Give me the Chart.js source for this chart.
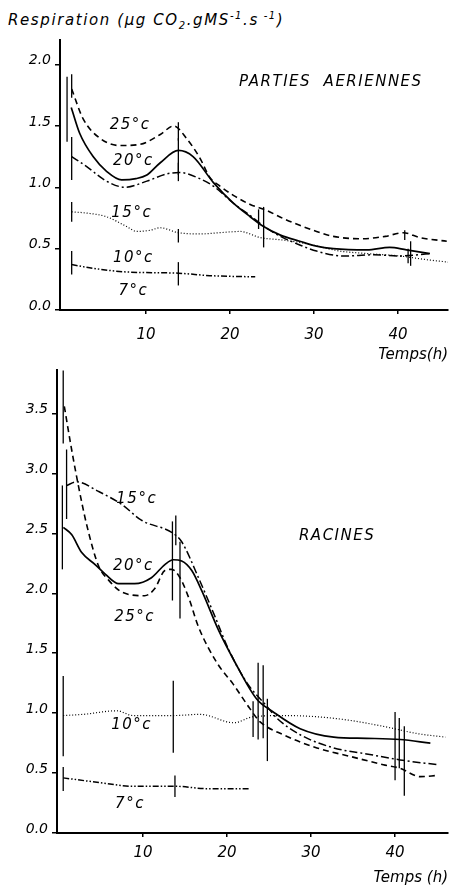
<!DOCTYPE html>
<html>
<head>
<meta charset="utf-8">
<script src="https://cdn.jsdelivr.net/npm/chart.js"></script>
<style>
  html, body { margin: 0; padding: 0; background: #fff; }
  body { width: 449px; height: 887px; position: relative; overflow: hidden; }
  canvas { position: absolute; left: 0; }
  #ytitle {
    position: absolute; left: 8px; top: 10px; letter-spacing: 1.6px;
    font: italic 15px "DejaVu Sans", sans-serif; color: #000; white-space: nowrap;
  }
  #ytitle sub, #ytitle sup { font-size: 10px; }
</style>
</head>
<body>
<div id="ytitle">Respiration (µg CO<sub>2</sub>.gMS<sup>-1</sup>.s<sup> -1</sup>)</div>
<canvas id="aerChart" width="449" height="364" style="top:0"></canvas>
<canvas id="racChart" width="449" height="529" style="top:358px"></canvas>
<script>
// Axes
const xTicks = [10, 20, 30, 40];
const yTicksAer = [0, 0.5, 1.0, 1.5, 2.0];
const yTicksRac = [0, 0.5, 1.0, 1.5, 2.0, 2.5, 3.0, 3.5];

// Parties aériennes : [heures, respiration]
const aer25 = [[1.15,1.80],[2.5,1.56],[4.5,1.40],[6.9,1.34],[9.3,1.35],[11.7,1.43],[13.3,1.50],[14.8,1.40],[16.4,1.24],[17.6,1.08],[18.8,1.01],[20.5,0.93],[22.4,0.86],[24.4,0.81],[26.5,0.74],[28.3,0.69],[30.3,0.64],[32.3,0.60],[35.5,0.58],[38.5,0.60],[40.6,0.63],[42.6,0.59],[45.8,0.56]];
const aer20 = [[1.1,1.65],[2.1,1.44],[3.7,1.25],[5.3,1.13],[7.1,1.06],[8.8,1.07],[10.1,1.10],[11.7,1.20],[13.85,1.30],[15.6,1.25],[18.0,1.04],[20.4,0.87],[22.4,0.76],[24.0,0.68],[26.0,0.61],[28.3,0.56],[30.3,0.52],[32.3,0.50],[36.3,0.49],[39.0,0.51],[41.0,0.49],[43.8,0.46]];
const aer15 = [[1.15,1.25],[2.9,1.17],[5.3,1.05],[7.5,1.00],[10.1,1.05],[12.5,1.11],[14.0,1.12],[16.4,1.07],[18.2,1.00],[20.4,0.87],[22.4,0.77],[24.5,0.66],[26.3,0.59],[28.3,0.53],[30.3,0.48],[33.5,0.44],[37.1,0.45],[40.2,0.44],[43.8,0.46]];
const aer10 = [[1.15,0.80],[2.9,0.79],[5.3,0.76],[7.7,0.68],[8.9,0.64],[10.5,0.65],[11.7,0.67],[13.85,0.63],[16.4,0.62],[18.8,0.63],[21.2,0.64],[23.6,0.59],[26.3,0.57],[29.1,0.54],[33.1,0.48],[36.3,0.46],[40.2,0.44],[43.4,0.41],[46,0.39]];
const aer7 = [[1.15,0.37],[3.7,0.34],[7.7,0.31],[13.85,0.30],[17.6,0.28],[23,0.27]];

// écarts : [heures, min, max]
const aer25Err = [[1.15,1.73,1.92],[13.85,1.38,1.53],[40.8,0.57,0.65]];
const aer20Err = [[0.6,1.37,1.90],[13.85,1.10,1.40],[23.4,0.66,0.82],[41.5,0.36,0.56]];
const aer15Err = [[1.15,1.06,1.41],[13.85,1.05,1.20],[41.2,0.38,0.50]];
const aer10Err = [[1.15,0.72,0.88],[13.85,0.55,0.66],[24.0,0.51,0.84]];
const aer7Err = [[1.15,0.29,0.48],[13.85,0.20,0.39]];

// Racines
const rac25 = [[0.63,3.56],[1.5,3.20],[2.3,2.90],[3.3,2.57],[4.7,2.23],[5.9,2.11],[7.5,2.01],[10.2,1.98],[11.4,2.04],[12.6,2.19],[13.4,2.20],[14.4,2.13],[15.4,1.97],[16.6,1.72],[18.8,1.42],[20.75,1.24],[22.7,1.04],[23.9,0.93],[26.7,0.82],[30.7,0.71],[34.6,0.64],[38.6,0.57],[40.6,0.54],[43,0.47],[45,0.48]];
const rac20 = [[0.52,2.55],[1.5,2.49],[2.7,2.34],[4.3,2.24],[5.5,2.16],[7.1,2.08],[9.0,2.08],[11.0,2.13],[12.6,2.24],[13.6,2.28],[14.6,2.27],[15.8,2.19],[17.0,2.02],[19.0,1.69],[20.75,1.45],[23.5,1.12],[25.5,1.01],[28.7,0.87],[32.7,0.80],[36.6,0.79],[40.6,0.78],[44.2,0.75]];
const rac15 = [[0.9,2.90],[2.1,2.93],[4.7,2.85],[7.5,2.74],[9.8,2.61],[13.6,2.50],[14.6,2.43],[16.6,2.13],[18.6,1.80],[20,1.56],[22.3,1.26],[24.7,1.06],[25.9,0.96],[28.7,0.82],[32.7,0.71],[36.6,0.66],[40.6,0.61],[45,0.57]];
const rac10 = [[0.5,0.98],[2.9,0.99],[6.9,1.02],[8.8,0.98],[13.6,0.98],[16.8,0.99],[20.8,0.92],[23.1,0.97],[26.7,0.98],[30.7,0.97],[34.6,0.94],[38.6,0.89],[42.6,0.83],[46,0.80]];
const rac7 = [[0.5,0.46],[4.9,0.42],[8.8,0.39],[13.8,0.39],[17.6,0.37],[22.7,0.37]];

const rac25Err = [[0.5,3.25,3.86],[13.5,1.94,2.60],[23.1,0.80,1.10],[41.1,0.31,0.89]];
const rac20Err = [[0.4,2.20,2.90],[14.4,1.79,2.43],[23.7,0.78,1.42],[40.0,0.44,1.01]];
const rac15Err = [[0.9,2.62,3.20],[13.9,2.40,2.65],[24.8,0.60,1.12]];
const rac10Err = [[0.5,0.64,1.31],[13.6,0.67,1.27],[24.3,0.79,1.40],[40.5,0.54,0.96]];
const rac7Err = [[0.5,0.35,0.55],[13.8,0.30,0.48]];

// étiquettes des courbes
const aerLabels = [
  { text: 'PARTIES  AERIENNES', x: 32.0, y: 1.86, size: 15 },
  { text: '25°c', x: 8.1, y: 1.51 },
  { text: '20°c', x: 8.5, y: 1.21 },
  { text: '15°c', x: 8.3, y: 0.79 },
  { text: '10°c', x: 8.5, y: 0.42 },
  { text: '7°c', x: 8.5, y: 0.15 }
];
const racLabels = [
  { text: 'RACINES', x: 33.1, y: 2.48, size: 15 },
  { text: '15°c', x: 9.25, y: 2.79 },
  { text: '20°c', x: 8.85, y: 2.23 },
  { text: '25°c', x: 9.0, y: 1.80 },
  { text: '10°c', x: 8.65, y: 0.90 },
  { text: '7°c', x: 8.45, y: 0.24 }
];

const FONT = '"DejaVu Sans", sans-serif';
Chart.defaults.font.family = FONT;
Chart.defaults.font.style = 'italic';
Chart.defaults.color = '#000';

// styles des températures
const styles = {
  25: { dash: [6, 4], width: 1.6 },
  20: { dash: [], width: 1.7 },
  15: { dash: [8, 3, 2, 3], width: 1.5 },
  10: { dash: [1, 2], width: 1.2 },
  7:  { dash: [6, 2, 1.5, 2, 1.5, 2], width: 1.5 }
};

function makeDataset(points, errs, temp) {
  return {
    label: temp + '°c',
    data: points.map(p => ({ x: p[0], y: p[1] })),
    errorBars: errs,
    borderColor: '#000',
    borderWidth: styles[temp].width,
    borderDash: styles[temp].dash,
    pointRadius: 0,
    fill: false,
    cubicInterpolationMode: 'monotone'
  };
}

const errorBarPlugin = {
  id: 'errorBars',
  afterDatasetsDraw(chart) {
    const { ctx, scales: { x, y } } = chart;
    ctx.save();
    ctx.strokeStyle = '#000';
    ctx.lineWidth = 1.3;
    chart.data.datasets.forEach(ds => {
      (ds.errorBars || []).forEach(([h, lo, hi]) => {
        const px = x.getPixelForValue(h);
        ctx.beginPath();
        ctx.moveTo(px, y.getPixelForValue(lo));
        ctx.lineTo(px, y.getPixelForValue(hi));
        ctx.stroke();
      });
    });
    ctx.restore();
  }
};

function labelPlugin(items) {
  return {
    id: 'curveLabels',
    afterDraw(chart) {
      const { ctx, scales: { x, y } } = chart;
      ctx.save();
      ctx.fillStyle = '#000';
      ctx.textAlign = 'center';
      ctx.textBaseline = 'middle';
      items.forEach(l => {
        ctx.font = 'italic ' + (l.size || 15) + 'px ' + FONT;
        ctx.letterSpacing = '1.5px';
        ctx.fillText(l.text, x.getPixelForValue(l.x), y.getPixelForValue(l.y));
      });
      ctx.restore();
    }
  };
}

function makeChart(id, datasets, labels, yTicks, yMax, xMin, xMax, yWidth, title, padTop, tickPad) {
  return new Chart(document.getElementById(id), {
    type: 'line',
    data: { datasets: datasets },
    options: {
      responsive: false,
      animation: false,
      layout: { padding: { top: padTop, right: 1, left: 0, bottom: 0 } },
      plugins: { legend: { display: false }, tooltip: { enabled: false } },
      scales: {
        x: {
          type: 'linear',
          min: xMin,
          max: xMax,
          afterBuildTicks: s => { s.ticks = xTicks.map(v => ({ value: v })); },
          afterFit: s => { s.height = 54; },
          border: { color: '#000', width: 2 },
          grid: { display: true, drawOnChartArea: false, drawTicks: true, tickLength: 4, color: '#000', lineWidth: 1.5 },
          ticks: { padding: tickPad, font: { size: 15, style: 'italic' }, maxRotation: 0 },
          title: { display: true, text: title, align: 'end', padding: { top: 0, bottom: 0 }, font: { size: 15, style: 'italic' } }
        },
        y: {
          min: 0,
          max: yMax,
          afterBuildTicks: s => { s.ticks = yTicks.map(v => ({ value: v })); },
          afterFit: s => { s.width = yWidth; },
          border: { color: '#000', width: 2 },
          grid: { display: true, drawOnChartArea: false, drawTicks: true, tickLength: 5, color: '#000', lineWidth: 1.5 },
          ticks: { padding: 4, labelOffset: -4, font: { size: 14, style: 'italic' }, callback: v => v.toFixed(1) }
        }
      }
    },
    plugins: [errorBarPlugin, labelPlugin(labels)]
  });
}

makeChart('aerChart', [
  makeDataset(aer25, aer25Err, 25),
  makeDataset(aer20, aer20Err, 20),
  makeDataset(aer15, aer15Err, 15),
  makeDataset(aer10, aer10Err, 10),
  makeDataset(aer7, aer7Err, 7)
], aerLabels, yTicksAer, 2.2, -0.24, 45.95, 60, 'Temps(h)', 40, 12);

makeChart('racChart', [
  makeDataset(rac25, rac25Err, 25),
  makeDataset(rac20, rac20Err, 20),
  makeDataset(rac15, rac15Err, 15),
  makeDataset(rac10, rac10Err, 10),
  makeDataset(rac7, rac7Err, 7)
], racLabels, yTicksRac, 3.86, -0.24, 46.3, 57, 'Temps (h)', 5, 7);
</script>
</body>
</html>
